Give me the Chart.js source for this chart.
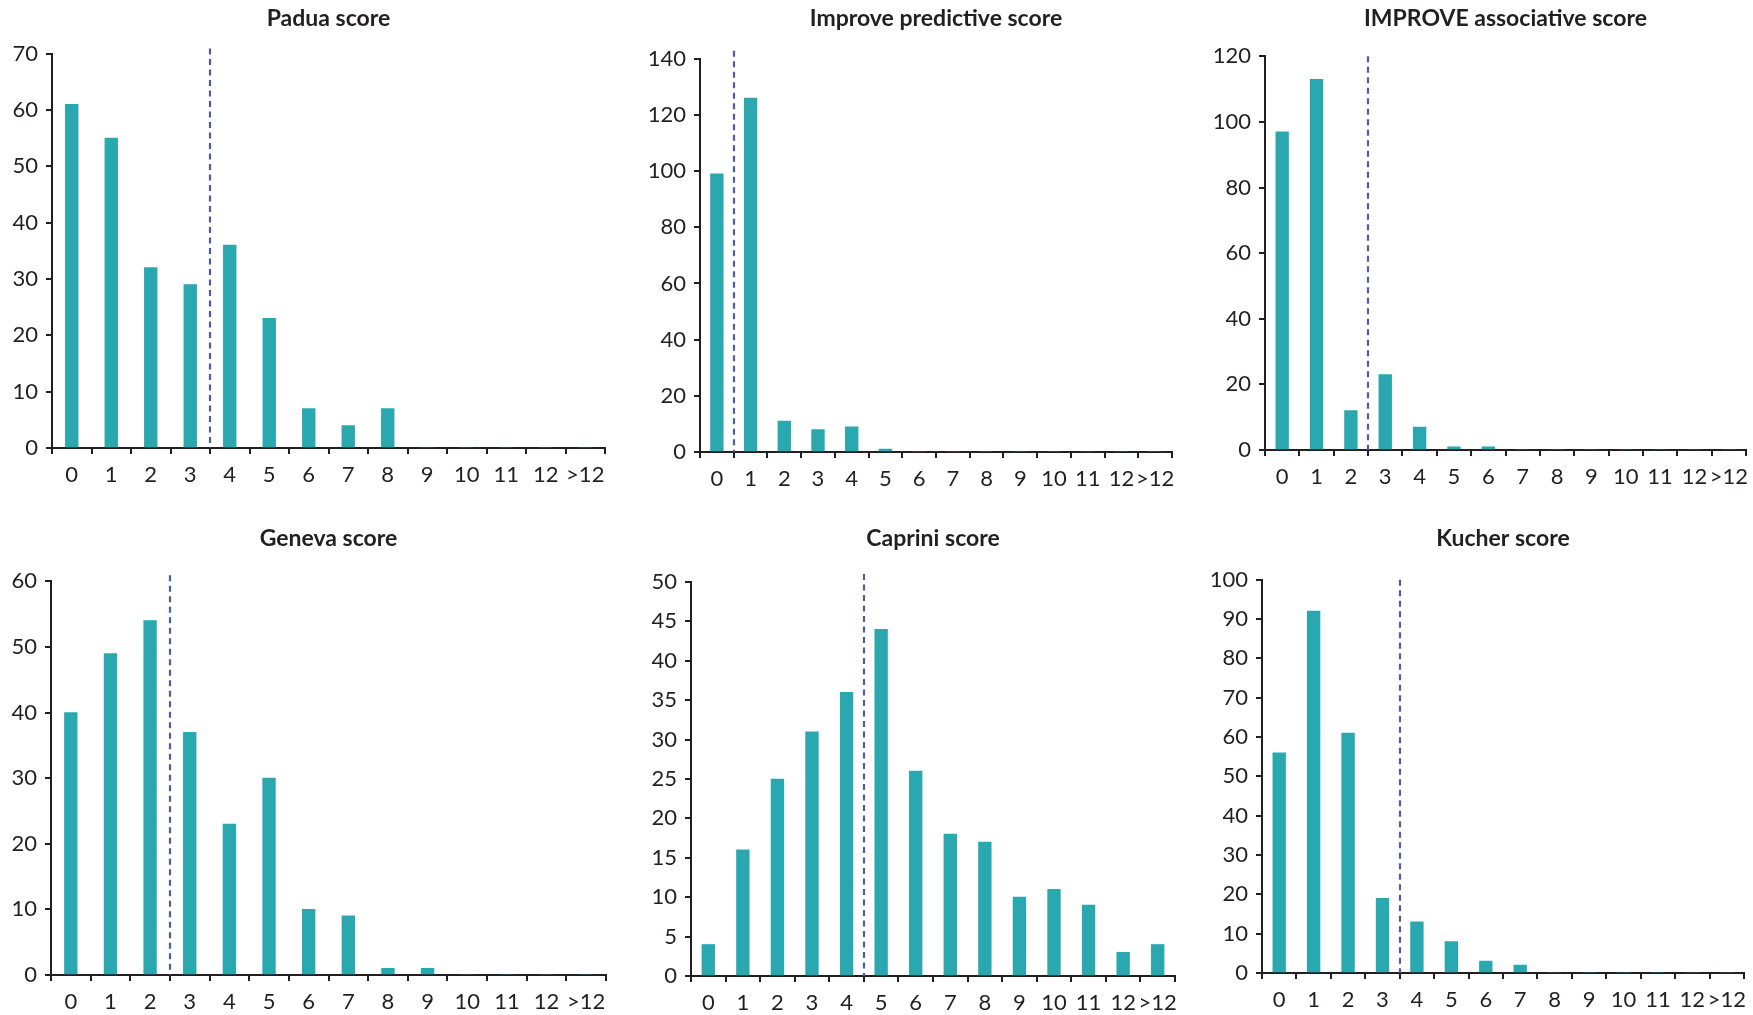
<!DOCTYPE html>
<html>
<head>
<meta charset="utf-8">
<script src="https://cdn.jsdelivr.net/npm/chart.js@4.4.1/dist/chart.umd.min.js"></script>
<style>
html, body { margin: 0; padding: 0; background: #ffffff; width: 1753px; height: 1015px; overflow: hidden; position: relative; }
canvas { position: absolute; }
</style>
</head>
<body>
<canvas id="c0"></canvas>
<canvas id="c1"></canvas>
<canvas id="c2"></canvas>
<canvas id="c3"></canvas>
<canvas id="c4"></canvas>
<canvas id="c5"></canvas>
<script>
// ---- data ----
const categories = ['0', '1', '2', '3', '4', '5', '6', '7', '8', '9', '10', '11', '12', '>12'];
const titles = ['Padua score', 'Improve predictive score', 'IMPROVE associative score',
                'Geneva score', 'Caprini score', 'Kucher score'];
const paduaValues        = [61, 55, 32, 29, 36, 23, 7, 4, 7, 0, 0, 0, 0, 0];
const improvePredValues  = [99, 126, 11, 8, 9, 1, 0, 0, 0, 0, 0, 0, 0, 0];
const improveAssocValues = [97, 113, 12, 23, 7, 1, 1, 0, 0, 0, 0, 0, 0, 0];
const genevaValues       = [40, 49, 54, 37, 23, 30, 10, 9, 1, 1, 0, 0, 0, 0];
const capriniValues      = [4, 16, 25, 31, 36, 44, 26, 18, 17, 10, 11, 9, 3, 4];
const kucherValues       = [56, 92, 61, 19, 13, 8, 3, 2, 0, 0, 0, 0, 0, 0];
const yMaxima = [70, 140, 120, 60, 50, 100];
const yStepSizes = [10, 20, 20, 10, 5, 10];
// first category to the right of the dashed cut-off line
const cutoffCategory = [4, 1, 3, 3, 5, 4];

const seriesList = [paduaValues, improvePredValues, improveAssocValues, genevaValues, capriniValues, kucherValues];

// ---- layout (plot-area boxes in page pixels) ----
const plotLeft   = [52, 700, 1265, 51, 691, 1262];
const plotRight  = [605, 1172, 1746, 606, 1175, 1744];
const plotTop    = [53.5, 58.7, 56.3, 581.3, 582, 579.7];
const plotBottom = [448, 452, 449.7, 975, 975.7, 973];
const rowTop     = [0, 0, 0, 500, 500, 500];
const titleCenterY = [19, 19, 19, 539, 539, 539];
const dashExtend = [5, 8, 0, 6, 8, 0];

const Y_AXIS_W = 60, X_AXIS_H = 50, PAD_RIGHT = 18;
const TITLE_SIZE = 23, TITLE_LH = 1.2;
const INK = '#231f20', BAR = '#2aa8b0', DASH = '#4e5e96';
const FONT = 'Lato';

const cutoffLine = {
  id: 'cutoffLine',
  afterDatasetsDraw(chart, args, opts) {
    const xs = chart.scales.x, ys = chart.scales.y;
    const px = Math.round((xs.getPixelForValue(opts.index - 1) + xs.getPixelForValue(opts.index)) / 2);
    const ctx = chart.ctx;
    ctx.save();
    ctx.strokeStyle = opts.color;
    ctx.lineWidth = 2.2;
    ctx.setLineDash([6, 4.5]);
    ctx.beginPath();
    ctx.moveTo(px, ys.top - opts.extend);
    ctx.lineTo(px, ys.bottom);
    ctx.stroke();
    ctx.restore();
  }
};

for (let i = 0; i < 6; i++) {
  const cv = document.getElementById('c' + i);
  const left = Math.round(plotLeft[i] - Y_AXIS_W);
  const top = rowTop[i];
  const width = Math.round(Y_AXIS_W + (plotRight[i] - plotLeft[i]) + PAD_RIGHT);
  const height = Math.round(plotBottom[i] - top + X_AXIS_H);
  cv.width = width; cv.height = height;
  cv.style.left = left + 'px'; cv.style.top = top + 'px';
  cv.style.width = width + 'px'; cv.style.height = height + 'px';

  const lineH = TITLE_SIZE * TITLE_LH;
  const padTop = titleCenterY[i] - top - lineH / 2;
  const padBottom = plotTop[i] - top - padTop - lineH;
  const yW = (plotLeft[i] - left);

  new Chart(cv, {
    type: 'bar',
    data: {
      labels: categories,
      datasets: [{
        data: seriesList[i],
        backgroundColor: BAR,
        borderWidth: 0,
        barThickness: 12.7
      }]
    },
    plugins: [cutoffLine],
    options: {
      responsive: false,
      animation: false,
      devicePixelRatio: 1,
      layout: { padding: { left: 0, right: PAD_RIGHT, top: 0, bottom: 0 } },
      plugins: {
        legend: { display: false },
        tooltip: { enabled: false },
        title: {
          display: true,
          text: titles[i],
          fullSize: false,
          color: INK,
          font: { family: FONT, size: TITLE_SIZE, weight: 'bold', lineHeight: TITLE_LH },
          padding: { top: padTop, bottom: padBottom }
        },
        cutoffLine: { index: cutoffCategory[i], color: DASH, extend: dashExtend[i] }
      },
      scales: {
        x: {
          offset: true,
          grid: { display: true, offset: true, drawOnChartArea: false, drawTicks: true,
                  tickLength: 6, tickWidth: 2, tickColor: INK, color: INK, lineWidth: 2 },
          border: { display: true, color: INK, width: 2 },
          ticks: { color: INK, font: { family: FONT, size: 22, lineHeight: 1.2 }, padding: 8,
                   maxRotation: 0, autoSkip: false },
          afterFit(scale) { scale.height = X_AXIS_H; }
        },
        y: {
          min: 0,
          max: yMaxima[i],
          grid: { display: true, drawOnChartArea: false, drawTicks: true,
                  tickLength: 6, tickWidth: 2, tickColor: INK, color: INK, lineWidth: 2 },
          border: { display: true, color: INK, width: 2 },
          ticks: { stepSize: yStepSizes[i], color: INK, font: { family: FONT, size: 22 }, padding: 8 },
          afterFit(scale) { scale.width = yW; }
        }
      }
    }
  });
}
</script>
</body>
</html>
